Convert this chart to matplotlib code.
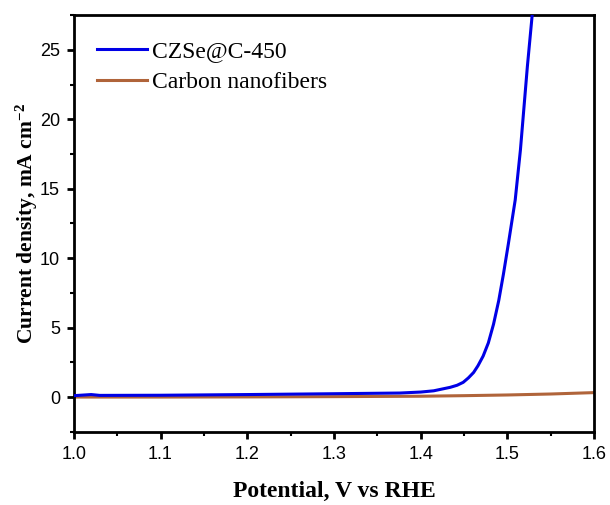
import numpy as np
import matplotlib
matplotlib.use("Agg")
import matplotlib.pyplot as plt
from matplotlib.ticker import MultipleLocator

# CZSe@C-450 polarization curve
czse_v = [1.000, 1.020, 1.030, 1.100, 1.200, 1.300, 1.376, 1.400, 1.415, 1.434,
          1.442, 1.449, 1.455, 1.461, 1.466, 1.472, 1.478, 1.484, 1.490, 1.4954,
          1.501, 1.509, 1.515, 1.523, 1.529]
czse_j = [0.10, 0.18, 0.12, 0.13, 0.18, 0.24, 0.29, 0.36, 0.45, 0.70,
          0.85, 1.06, 1.38, 1.77, 2.25, 2.95, 3.90, 5.25, 6.95, 8.85,
          11.0, 14.2, 17.8, 23.8, 27.8]

# Carbon nanofibers
cnf_v = [1.00, 1.10, 1.20, 1.30, 1.40, 1.45, 1.50, 1.55, 1.60]
cnf_j = [0.00, 0.00, 0.01, 0.03, 0.06, 0.10, 0.15, 0.22, 0.32]

labels = ["CZSe@C-450", "Carbon nanofibers"]

plt.rcParams["mathtext.fontset"] = "custom"
plt.rcParams["mathtext.rm"] = "Liberation Serif:bold"
plt.rcParams["mathtext.it"] = "Liberation Serif:bold"
plt.rcParams["mathtext.bf"] = "Liberation Serif:bold"

fig = plt.figure(figsize=(6.1, 5.05), dpi=100)
ax = fig.add_axes([0.121, 0.145, 0.853, 0.825])

ax.plot(cnf_v, cnf_j, color="#b0643a", lw=2.2, label=labels[1], zorder=2)
ax.plot(czse_v, czse_j, color="#0000e6", lw=2.2, label=labels[0], zorder=3)

ax.set_xlim(1.0, 1.6)
ax.set_ylim(-2.5, 27.5)
ax.xaxis.set_major_locator(MultipleLocator(0.1))
ax.xaxis.set_minor_locator(MultipleLocator(0.05))
ax.yaxis.set_major_locator(MultipleLocator(5))
ax.yaxis.set_minor_locator(MultipleLocator(2.5))

for s in ax.spines.values():
    s.set_linewidth(2)
ax.tick_params(which="major", direction="out", length=5, width=2, labelsize=13, pad=5)
ax.tick_params(which="minor", direction="out", length=3, width=1.5)
for t in ax.get_xticklabels() + ax.get_yticklabels():
    t.set_fontfamily("Liberation Sans")

ax.set_xlabel("Potential, V vs RHE", fontfamily="Liberation Serif",
              fontweight="bold", fontsize=17, labelpad=13)
ax.set_ylabel("Current density, mA cm$^{-2}$", fontfamily="Liberation Serif",
              fontweight="bold", fontsize=15.5, labelpad=0)

handles, lbls = ax.get_legend_handles_labels()
ax.legend(handles[::-1], lbls[::-1], loc="upper left", frameon=False,
          prop={"family": "Liberation Serif", "size": 17},
          handlelength=2.15, handletextpad=0.2, labelspacing=0.4,
          borderpad=0, borderaxespad=0, bbox_to_anchor=(0.044, 0.938))

fig.savefig("out.png", dpi=100)
